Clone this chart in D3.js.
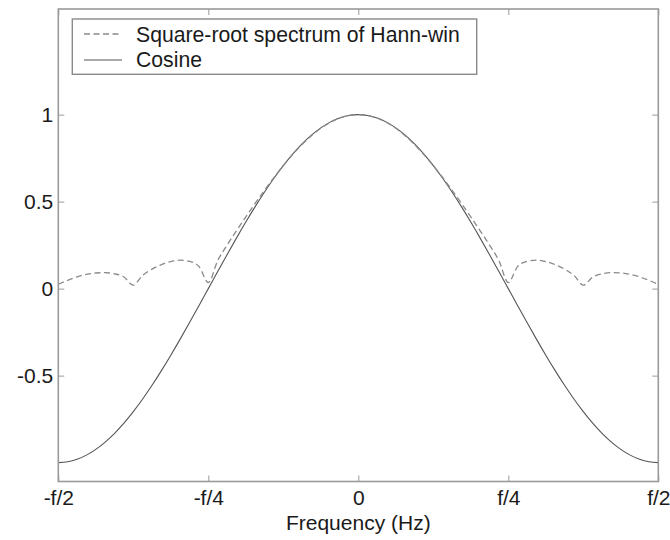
<!DOCTYPE html>
<html>
<head>
<meta charset="utf-8">
<script src="https://cdn.jsdelivr.net/npm/d3@7"></script>
<style>
  html, body { margin: 0; padding: 0; background: #fff; }
  svg { display: block; font-family: "Liberation Sans", Arial, sans-serif; }
</style>
</head>
<body>
<svg id="chart" width="670" height="540"></svg>
<script>
// Frequency samples (fraction of f), -1/2 .. 1/2 in steps of 1/64
const freqIndex = d3.range(-32, 33);
// Half-spectrum values (index 0 .. 32), mirrored for negative frequencies
const cosineHalf = [1, 0.9952, 0.9808, 0.9569, 0.9239, 0.8819, 0.8315, 0.7730, 0.7071,
  0.6344, 0.5556, 0.4714, 0.3827, 0.2903, 0.1951, 0.0980, 0,
  -0.0980, -0.1951, -0.2903, -0.3827, -0.4714, -0.5556, -0.6344, -0.7071,
  -0.7730, -0.8315, -0.8819, -0.9239, -0.9569, -0.9808, -0.9952, -1];
const hannSqrtHalf = [1, 0.9950, 0.9800, 0.9553, 0.9213, 0.8787, 0.8282, 0.7707, 0.7071,
  0.6385, 0.5658, 0.4900, 0.4120, 0.3321, 0.2497, 0.1607, 0.035,
  0.1277, 0.1569, 0.1634, 0.1557, 0.1379, 0.1117, 0.0764, 0.020,
  0.0667, 0.0851, 0.0916, 0.0899, 0.0818, 0.0678, 0.0474, 0.025];
const xTickValues = [-0.5, -0.25, 0, 0.25, 0.5];
const xTickLabels = ["-f/2", "-f/4", "0", "f/4", "f/2"];
const yTickValues = [1, 0.5, 0, -0.5];
const yTickLabels = ["1", "0.5", "0", "-0.5"];
const seriesNames = ["Square-root spectrum of Hann-win", "Cosine"];

const freqs = freqIndex.map(k => k / 64);
const cosine = freqIndex.map(k => cosineHalf[Math.abs(k)]);
const hann = freqIndex.map(k => hannSqrtHalf[Math.abs(k)]);

const svg = d3.select("#chart");
const L = 58.3, R = 658.3, T = 9, B = 481.5;
const x = d3.scaleLinear().domain([-0.5, 0.5]).range([L, R]);
const y = d3.scaleLinear().domain([-1.1085, 1.607]).range([B, T]);

const axisColor = "#9a9a9a";
const textColor = "#1a1a1a";
const fs = 21;

// Curves
const line = d3.line().x(d => x(d[0])).y(d => y(d[1])).curve(d3.curveMonotoneX);
svg.append("path")
  .datum(freqs.map((f, i) => [f, cosine[i]]))
  .attr("d", line).attr("fill", "none")
  .attr("stroke", "#555").attr("stroke-width", 1.1);
svg.append("path")
  .datum(freqs.map((f, i) => [f, hann[i]]))
  .attr("d", line).attr("fill", "none")
  .attr("stroke", "#8a8a8a").attr("stroke-width", 1.3)
  .attr("stroke-dasharray", "6,3.5");

// Axes (MATLAB-style box with inward ticks)
const tl = 6;
const xAxisB = d3.axisBottom(x).tickValues(xTickValues)
  .tickFormat((d, i) => xTickLabels[i]).tickSizeInner(-tl).tickSizeOuter(0).tickPadding(9);
const xAxisT = d3.axisTop(x).tickValues(xTickValues).tickFormat("").tickSizeInner(-tl).tickSizeOuter(0);
const yAxisL = d3.axisLeft(y).tickValues(yTickValues)
  .tickFormat((d, i) => yTickLabels[i]).tickSizeInner(-tl).tickSizeOuter(0).tickPadding(5);
const yAxisR = d3.axisRight(y).tickValues(yTickValues).tickFormat("").tickSizeInner(-tl).tickSizeOuter(0);

function style(g) {
  g.select(".domain").remove();
  g.selectAll(".tick line").attr("stroke", axisColor).attr("stroke-width", 1);
  g.selectAll(".tick text").attr("fill", textColor).attr("font-size", fs)
    .attr("font-family", "Liberation Sans, Arial, sans-serif");
}
svg.append("g").attr("transform", `translate(0,${B})`).call(xAxisB).call(style);
svg.append("g").attr("transform", `translate(0,${T})`).call(xAxisT).call(style);
svg.append("g").attr("transform", `translate(${L},0)`).call(yAxisL).call(style);
svg.append("g").attr("transform", `translate(${R},0)`).call(yAxisR).call(style);

svg.append("rect").attr("x", L).attr("y", T).attr("width", R - L).attr("height", B - T)
  .attr("fill", "none").attr("stroke", axisColor).attr("stroke-width", 1.6);

// X label
svg.append("text").attr("x", x(0)).attr("y", 529.5).attr("text-anchor", "middle")
  .attr("font-size", fs).attr("fill", textColor).text("Frequency (Hz)");

// Legend
const lg = svg.append("g");
lg.append("rect").attr("x", 72.3).attr("y", 19).attr("width", 404.4).attr("height", 55.3)
  .attr("fill", "#fff").attr("stroke", "#8a8a8a").attr("stroke-width", 1.4);
const legendRows = [
  { name: seriesNames[0], ly: 34, ty: 42, stroke: "#8a8a8a", dash: "6,3.5", w: 1.3 },
  { name: seriesNames[1], ly: 60, ty: 67, stroke: "#555", dash: null, w: 1.1 }
];
legendRows.forEach(r => {
  lg.append("line").attr("x1", 84).attr("x2", 122).attr("y1", r.ly).attr("y2", r.ly)
    .attr("stroke", r.stroke).attr("stroke-width", r.w)
    .attr("stroke-dasharray", r.dash);
  lg.append("text").attr("x", 136).attr("y", r.ty).attr("font-size", 21.2)
    .attr("fill", textColor).text(r.name);
});
</script>
</body>
</html>
